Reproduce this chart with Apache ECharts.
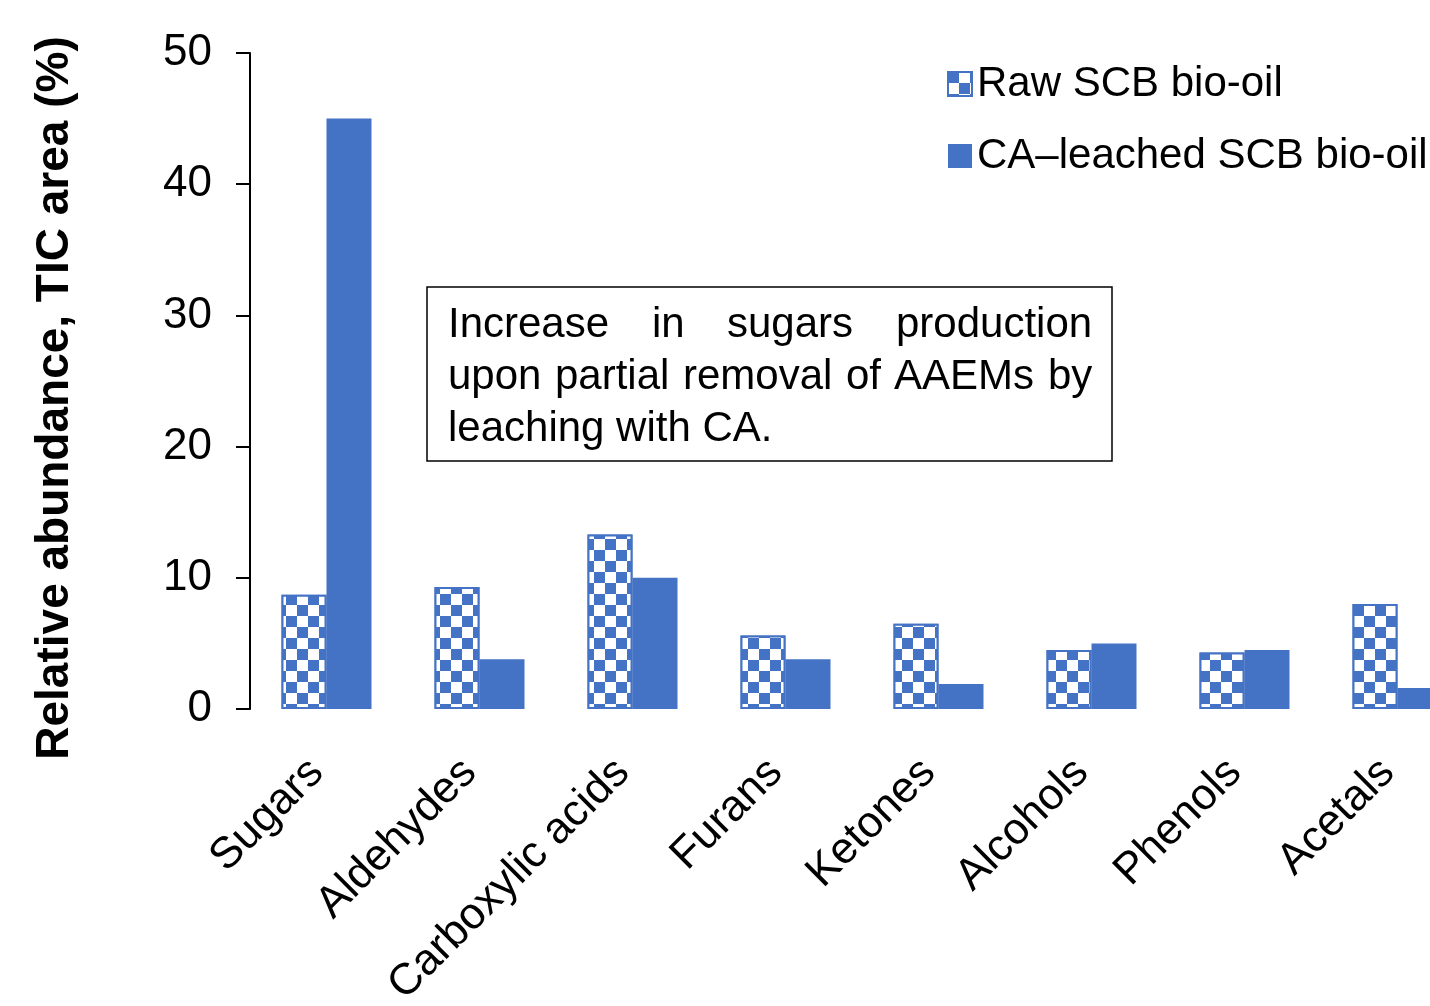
<!DOCTYPE html>
<html>
<head>
<meta charset="utf-8">
<script src="https://cdn.jsdelivr.net/npm/echarts@6/dist/echarts.min.js"></script>
<style>
html,body{margin:0;padding:0;background:#fff;overflow:hidden;width:1430px;height:1006px;}
#chart{width:1474px;height:1006px;}
</style>
</head>
<body>
<div id="chart"></div>
<script>
const categories = ['Sugars', 'Aldehydes', 'Carboxylic acids', 'Furans', 'Ketones', 'Alcohols', 'Phenols', 'Acetals'];
const rawValues = [8.7, 9.3, 13.3, 5.6, 6.5, 4.5, 4.3, 8.0];
const leachedValues = [45.0, 3.8, 10.0, 3.8, 1.9, 5.0, 4.5, 1.6];
const seriesNames = ['Raw SCB bio-oil', 'CA\u2013leached SCB bio-oil'];
const yTicks = [0, 10, 20, 30, 40, 50];
const yTitle = 'Relative abundance, TIC area (%)';
const noteLine1 = ['Increase', 'in', 'sugars', 'production'];
const noteLine2 = ['upon', 'partial', 'removal', 'of', 'AAEMs', 'by'];
const noteLine3 = ['leaching with CA.'];

const BLUE = '#4472C4';
const FONT = '"Liberation Sans", Arial, sans-serif';

const chart = echarts.init(document.getElementById('chart'), null, {renderer: 'canvas'});

const line1X = [448, 652, 727, 896];
const line2X = [448, 555, 683, 846, 894, 1048];
const line3X = [448];
const graphics = [
  {
    type: 'rect',
    shape: {x: 427, y: 287, width: 685, height: 174},
    style: {fill: '#fff', stroke: '#000', lineWidth: 1.5},
    z: 10
  },
  {
    type: 'text', x: 55, y: 398, rotation: Math.PI / 2, z: 11,
    style: {text: yTitle, font: 'bold 46px ' + FONT, fill: '#000', textAlign: 'center', textVerticalAlign: 'middle'}
  }
];
function addLine(words, xs, y) {
  words.forEach((w, i) => {
    graphics.push({
      type: 'text', x: xs[i], y: y, z: 11,
      style: {text: w, font: '42px ' + FONT, fill: '#000', textVerticalAlign: 'middle'}
    });
  });
}
addLine(noteLine1, line1X, 325);
addLine(noteLine2, line2X, 377);
addLine(noteLine3, line3X, 429);

chart.setOption({
  animation: false,
  backgroundColor: '#fff',
  textStyle: {fontFamily: FONT},
  grid: {left: 250, top: 53, right: 0, height: 656, containLabel: false, outerBoundsMode: 'none'},
  legend: {
    orient: 'vertical',
    left: 942,
    top: 58,
    itemWidth: 24,
    itemHeight: 24,
    itemGap: 30,
    icon: 'rect',
    textStyle: {fontSize: 42, color: '#000', fontFamily: FONT},
    data: seriesNames
  },
  xAxis: {
    type: 'category',
    data: categories,
    axisLine: {show: false},
    axisTick: {show: false},
    axisLabel: {
      rotate: 45,
      interval: 0,
      margin: 47,
      padding: [0, 14, 0, 0],
      fontSize: 44,
      color: '#000',
      fontFamily: FONT
    }
  },
  yAxis: {
    type: 'value',
    min: 0,
    max: 50,
    interval: 10,
    axisLine: {show: true, lineStyle: {color: '#000', width: 2}},
    axisTick: {show: true, inside: false, length: 14, lineStyle: {color: '#000', width: 2}},
    axisLabel: {fontSize: 44, color: '#000', margin: 38, fontFamily: FONT},
    splitLine: {show: false}
  },
  series: [
    {
      name: seriesNames[0],
      type: 'bar',
      data: rawValues,
      barWidth: 45,
      barGap: '0%',
      itemStyle: {
        color: BLUE,
        borderColor: BLUE,
        borderWidth: 2,
        decal: {
          symbol: 'rect',
          symbolSize: 1,
          color: '#fff',
          dashArrayX: [[11, 11], [0, 11, 11, 0]],
          dashArrayY: [11, 0]
        }
      }
    },
    {
      name: seriesNames[1],
      type: 'bar',
      data: leachedValues,
      barWidth: 45,
      barGap: '0%',
      itemStyle: {color: BLUE}
    }
  ],
  graphic: graphics
});
</script>
</body>
</html>
